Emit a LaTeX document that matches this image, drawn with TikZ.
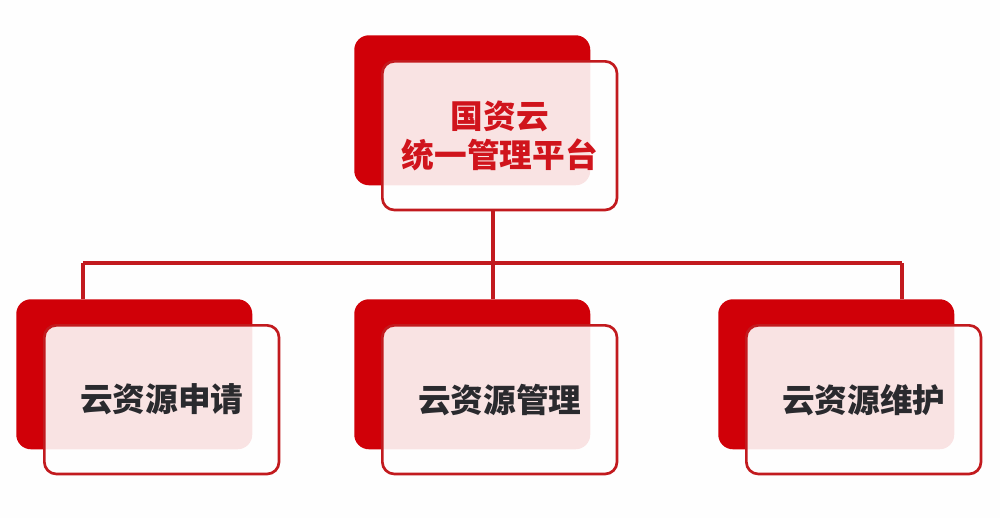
\documentclass[tikz,border=0pt]{standalone}
\usepackage{fontspec}
\newfontfamily\cjk{Noto Sans CJK SC}[BoldFont={Noto Sans CJK SC Black}]
\usetikzlibrary{positioning}

\definecolor{backred}{HTML}{D00008}
\definecolor{linered}{HTML}{C21A1E}
\definecolor{textgray}{HTML}{2A2A2E}
\definecolor{titlered}{HTML}{D0141C}

\tikzset{
  backbox/.style={fill=backred, rounded corners=11pt, minimum width=177pt, minimum height=112.5pt, inner sep=0pt},
  frontbox/.style={draw=linered, line width=2pt, fill=white, fill opacity=0.89, text opacity=1, rounded corners=9pt,
    minimum width=176pt, minimum height=111.5pt, inner sep=0pt, align=center,
    font=\cjk\bfseries\fontsize{24.5pt}{30pt}\selectfont},
  link/.style={draw=linered, line width=2.6pt}
}

\begin{document}
\begin{tikzpicture}[x=0.75pt, y=-0.75pt]
\useasboundingbox (0,0) rectangle (1000,518);
\fill[white!99!gray] (0,0) rectangle (1000,518);
% top box
\node[backbox, anchor=north west] (b0) at (354,35) {};
\node[frontbox, below right=18.75pt and 20.25pt of b0.north west, text=titlered] (f0) {国资云\\[-1pt]统一管理平台};
% children
\node[backbox, anchor=north west] (b1) at (16,299) {};
\node[frontbox, below right=18.75pt and 20.25pt of b1.north west, text=textgray] (f1) {云资源申请};
\node[backbox, anchor=north west] (b2) at (354,299) {};
\node[frontbox, below right=18.75pt and 20.25pt of b2.north west, text=textgray] (f2) {云资源管理};
\node[backbox, anchor=north west] (b3) at (718,299) {};
\node[frontbox, below right=18.75pt and 20.25pt of b3.north west, text=textgray] (f3) {云资源维护};
% tree lines
\coordinate (hub) at (493,263);
\coordinate (j1) at (83,263);
\coordinate (j3) at (902,263);
\draw[link] (j1) -- (j3);
\draw[link] (f0.south -| hub) -- (hub |- b2.north);
\draw[link] (j1) -- (j1 |- b1.north);
\draw[link] (j3) -- (j3 |- b3.north);
\end{tikzpicture}
\end{document}
